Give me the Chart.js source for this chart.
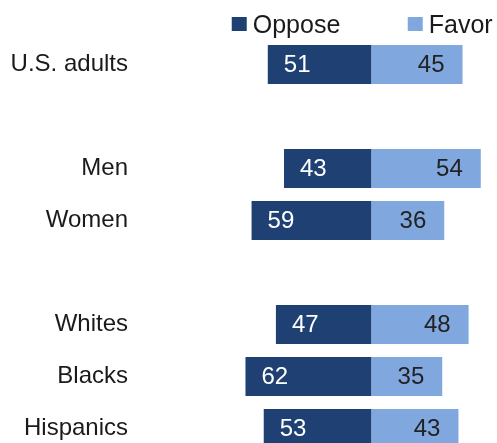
<!DOCTYPE html>
<html>
<head>
<meta charset="utf-8">
<script src="https://cdn.jsdelivr.net/npm/chart.js@4"></script>
<style>
  html, body { margin: 0; padding: 0; background: #fff; overflow: hidden; }
  #wrap { position: relative; width: 497px; height: 460px; }
</style>
</head>
<body>
<div id="wrap"><canvas id="opinionChart"></canvas></div>
<script>
// empty strings leave a blank row between groups
const groups = ['U.S. adults', '', 'Men', 'Women', '', 'Whites', 'Blacks', 'Hispanics'];
const oppose = [51, null, 43, 59, null, 47, 62, 53];
const favor = [45, null, 54, 36, null, 48, 35, 43];

const darkBlue = '#1f4072';
const lightBlue = '#80a8de';
const font = 'Liberation Sans, Arial, sans-serif';

// number inside each bar: oppose at the outer left end, favor at the outer right end
const barLabels = {
    id: 'barLabels',
    afterDatasetsDraw(chart) {
        const ctx = chart.ctx;
        ctx.save();
        ctx.font = '24px ' + font;
        ctx.textBaseline = 'middle';
        chart.data.datasets.forEach((ds, di) => {
            chart.getDatasetMeta(di).data.forEach((bar, i) => {
                const raw = ds.data[i];
                if (raw === null) return;
                const val = String(Math.abs(raw));
                if (raw < 0) {
                    ctx.fillStyle = '#ffffff';
                    ctx.textAlign = 'left';
                    ctx.fillText(val, bar.x + 16, bar.y + 1);
                } else {
                    ctx.fillStyle = '#222222';
                    ctx.textAlign = 'right';
                    ctx.fillText(val, bar.x - 18, bar.y + 1);
                }
            });
        });
        ctx.restore();
    }
};

// legend above the bars, hung off the zero line
const topLegend = {
    id: 'topLegend',
    afterDraw(chart) {
        const ctx = chart.ctx;
        const zero = chart.scales.x.getPixelForValue(0);
        const items = [
            { text: chart.data.datasets[0].label, color: darkBlue, x: zero - 139.5 },
            { text: chart.data.datasets[1].label, color: lightBlue, x: zero + 36.5 }
        ];
        ctx.save();
        ctx.font = '25px ' + font;
        ctx.textBaseline = 'alphabetic';
        ctx.textAlign = 'left';
        items.forEach(it => {
            ctx.fillStyle = it.color;
            ctx.fillRect(it.x, 17, 15, 14);
            ctx.fillStyle = '#1a1a1a';
            ctx.fillText(it.text, it.x + 21, 33);
        });
        ctx.restore();
    }
};

new Chart(document.getElementById('opinionChart'), {
    type: 'bar',
    data: {
        labels: groups,
        datasets: [
            {
                label: 'Oppose',
                data: oppose.map(v => v === null ? null : -v),
                backgroundColor: darkBlue
            },
            {
                label: 'Favor',
                data: favor,
                backgroundColor: lightBlue
            }
        ]
    },
    options: {
        indexAxis: 'y',
        responsive: true,
        maintainAspectRatio: false,
        animation: false,
        devicePixelRatio: 1,
        barPercentage: 0.75,
        categoryPercentage: 1,
        layout: { padding: { top: 38.5, bottom: 5.5, left: 0, right: 0 } },
        plugins: {
            legend: { display: false },
            tooltip: { enabled: false }
        },
        scales: {
            x: {
                display: false,
                stacked: true,
                min: -114,
                max: 62
            },
            y: {
                stacked: true,
                grid: { display: false, drawTicks: false },
                border: { display: false },
                afterFit(scale) {
                    scale.width = 140;
                    // labels sit inside their rows, no overhang room needed
                    scale.paddingTop = 0;
                    scale.paddingBottom = 0;
                },
                ticks: {
                    autoSkip: false,
                    padding: 12,
                    color: '#1a1a1a',
                    font: { family: font, size: 24 }
                }
            }
        }
    },
    plugins: [barLabels, topLegend]
});
</script>
</body>
</html>
